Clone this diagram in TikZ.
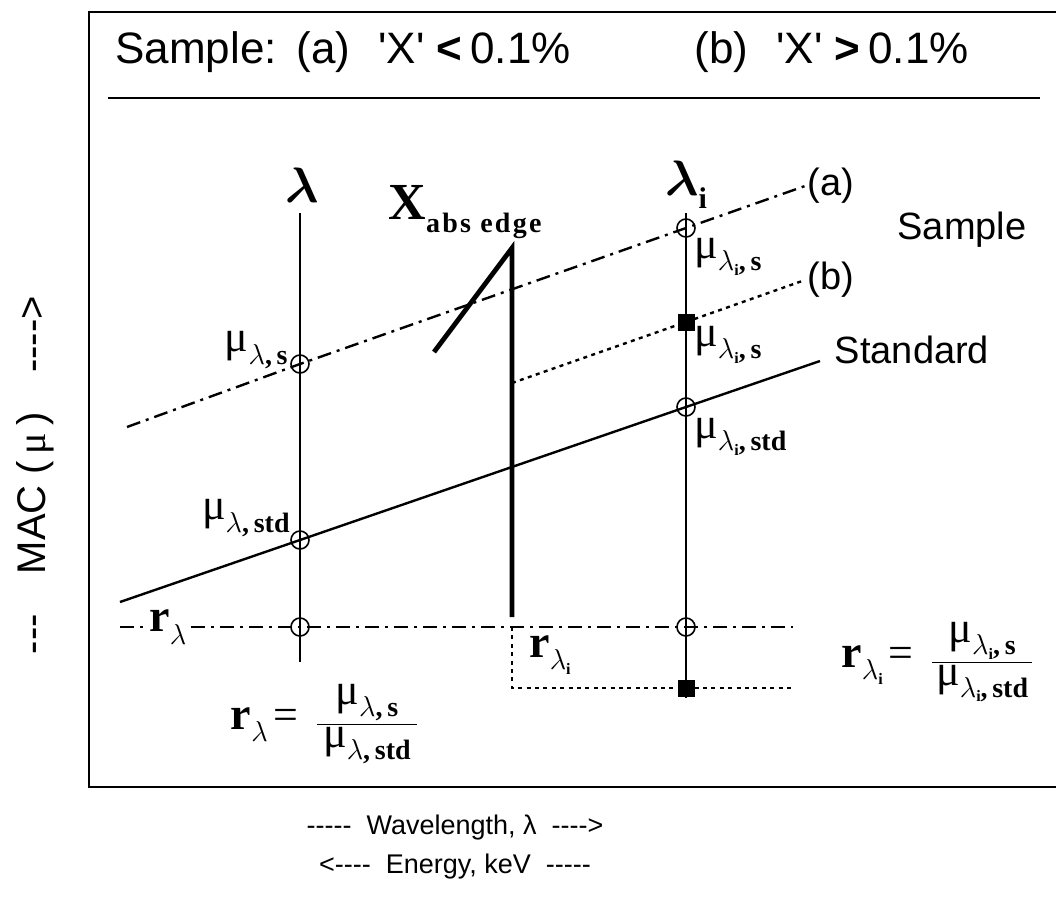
\documentclass[tikz,border=0pt]{standalone}
\usepackage{fontspec}
\setmainfont{Liberation Sans}
\newfontfamily\tms{Liberation Serif}
\usetikzlibrary{positioning}
% lambda, and lambda with index i, as used in labels
\newcommand{\lm}{\ensuremath{\lambda}}
\newcommand{\biglm}{{\boldmath$\lambda$}}
\newcommand{\subi}{\lm\raisebox{-0.35ex}{\fontsize{8}{8}\selectfont\bfseries i}}
\newcommand{\mulab}[2]{%
    % #1=wavelength, #2=s or std
    {\tms\fontsize{22}{22}\selectfont μ\raisebox{-0.6ex}{\fontsize{14}{14}\selectfont #1\bfseries,\,#2}}}
\newcommand{\rlab}[1]{%
    % #1=wavelength
    {\tms\fontsize{23}{23}\selectfont\bfseries r\raisebox{-0.6ex}{\fontsize{14}{14}\selectfont\mdseries #1}}}

\begin{document}
\begin{tikzpicture}[x=0.5pt, y=-0.5pt,
    ring/.style={circle, draw, line width=0.8pt, minimum size=9pt, inner sep=0pt},
    blk/.style={rectangle, fill=black, minimum size=8.5pt, inner sep=0pt},
    dashdot/.style={line width=1.2pt, dash pattern=on 7pt off 3pt on 1.5pt off 3pt},
    dots/.style={line width=1.2pt, dash pattern=on 2pt off 2.2pt},
    lbl/.style={font=\fontsize{19}{19}\selectfont, inner sep=1pt},
    greek/.style={font=\fontsize{25}{25}\selectfont, inner sep=1pt}
]
    \useasboundingbox (0,0) rectangle (1056,896);

    % Frame and heading
    \draw[line width=1pt] (1062,12) -- (89,12) -- (89,787) -- (1062,787);
    \node[anchor=west, font=\fontsize{22}{22}\selectfont, inner sep=0pt] (title) at (115,52)
        {Sample:\hspace{10pt}(a)\hspace{14pt}\textquotesingle X\textquotesingle\hspace{6pt}\textbf{<}\hspace{4pt}0.1\%\hspace{62pt}(b)\hspace{14pt}\textquotesingle X\textquotesingle\hspace{6pt}\textbf{>}\hspace{4pt}0.1\%};
    \draw[line width=1.2pt] (108,98) -- (1040,98);

    % Wavelength lines
    \node[greek] (lam) at (302,185) {\biglm};
    \node[greek] (lami) at (686,185) {\biglm\raisebox{-0.5ex}{\fontsize{15}{15}\selectfont\tms\bfseries i}};
    \coordinate (lt) at (300,213);
    \coordinate (lb) at (300,662);
    \coordinate (it) at (686,213);
    \coordinate (ib) at (686,698);
    \draw[line width=1.2pt] (lt) -- (lb);
    \draw[line width=1.2pt] (it) -- (ib);

    % Points
    \node[ring] (ms) at (300,364) {};
    \node[ring] (mstd) at (300,540) {};
    \node[ring] (rl) at (300,627) {};
    \node[ring] (mis) at (686,228) {};
    \node[blk] (mib) at (686,322) {};
    \node[ring] (mistd) at (686,407) {};
    \node[ring] (ri) at (686,627) {};
    \node[blk] (rib) at (686,688) {};

    % Absorption edge
    \coordinate (eg0) at (434,352);
    \coordinate (egtop) at (512,248);
    \coordinate (egbot) at (512,617);
    \draw[line width=2.4pt] (eg0) -- (egtop) -- (egbot);
    \node[font=\tms\bfseries\fontsize{26}{26}\selectfont, inner sep=0pt] (xedge) at (465,212)
        {X\raisebox{-0.55ex}{\fontsize{14}{14}\selectfont\addfontfeature{LetterSpace=8}abs edge}};

    % Sample (a), sample (b) and standard
    \coordinate (a0) at (127,427);
    \coordinate (a1) at (805,186);
    \coordinate (b0) at (512,383);
    \coordinate (b1) at (805,280);
    \coordinate (s0) at (120,602);
    \coordinate (s1) at (820,361);
    \draw[dashdot] (a0) -- (ms.center) -- (mis.center) -- (a1);
    \draw[dots] (b0) -- (mib.center) -- (b1);
    \draw[line width=1.2pt] (s0) -- (mstd.center) -- (mistd.center) -- (s1);
    \node[lbl, anchor=west] (la) at (a1) {(a)};
    \node[lbl, anchor=west] (lb) at (b1) {(b)};
    \node[lbl] (smp) at (962,230) {Sample};
    \node[lbl] (std) at (912,350) {Standard};

    % Ratio lines
    \coordinate (r0) at (120,627);
    \coordinate (r1) at (793,627);
    \coordinate (ec) at (512,627);
    \coordinate (ed) at (512,688);
    \coordinate (r2) at (793,688);
    \node[inner sep=2pt] (rlam) at (168,627) {\rlab{\lm}};
    \draw[dashdot] (r0) -- (rlam.west);
    \draw[dashdot] (rlam.east) -- (rl.center) -- (ri.center) -- (r1);
    \draw[dots] (ec) -- (ed) -- (rib.center) -- (r2);
    \node (rlami) at (550,655) {\rlab{\subi}};

    % Coefficient labels
    \node[anchor=east, inner sep=1pt] (mu1) at (290,350) {\mulab{\lm}{s}};
    \node[anchor=east, inner sep=1pt] (mu2) at (292,518) {\mulab{\lm}{std}};
    \node[anchor=west, inner sep=1pt] (mu3) at (692,257) {\mulab{\subi}{s}};
    \node[anchor=west, inner sep=1pt] (mu4) at (692,345) {\mulab{\subi}{s}};
    \node[anchor=west, inner sep=1pt] (mu5) at (692,437) {\mulab{\subi}{std}};

    % Ratios
    \node (frac1) at (325,724) {\rlab{\lm}\ {\tms\fontsize{22}{22}\selectfont =}\ \ \ $\displaystyle\frac{\hbox{\mulab{\lm}{s}}}{\hbox{\hspace{3pt}\mulab{\lm}{std}\hspace{3pt}}}$};
    \node (frac2) at (938,662) {\rlab{\subi}\ {\tms\fontsize{22}{22}\selectfont =}\ \ \ $\displaystyle\frac{\hbox{\mulab{\subi}{s}}}{\hbox{\hspace{2pt}\mulab{\subi}{std}\hspace{2pt}}}$};

    % Axis captions
    \node[rotate=90, font=\fontsize{20}{20}\selectfont] (mac) at (35,475)
        {-{}-{}-\quad MAC (\,{\tms μ}\,)\quad -{}-{}-{}->};
    \node[font=\fontsize{13.5}{13.5}\selectfont] (wave) at (455,828)
        {-{}-{}-{}-{}-\ \ Wavelength, λ\ \ -{}-{}-{}->};
    \node[font=\fontsize{13.5}{13.5}\selectfont] (energy) at (455,867)
        {<-{}-{}-{}-\ \ Energy, keV\ \ -{}-{}-{}-{}-};
\end{tikzpicture}
\end{document}
